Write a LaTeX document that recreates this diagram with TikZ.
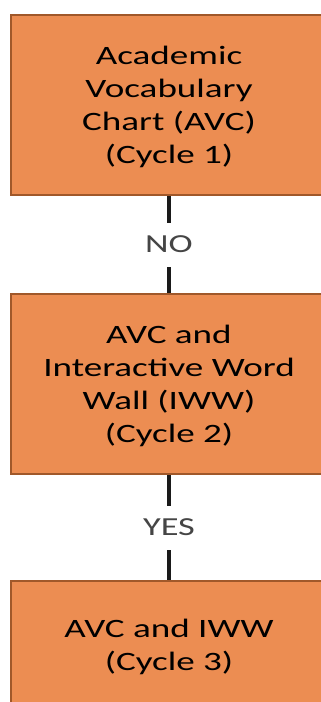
\documentclass[tikz,border=0pt]{standalone}
\usepackage{fontspec}
\newfontfamily\boxfont[FakeStretch=1.4]{Carlito}
\definecolor{boxfill}{HTML}{EC8D52}
\definecolor{boxedge}{HTML}{A0582A}
\definecolor{lblgray}{HTML}{454545}
\definecolor{linecol}{HTML}{1A1A1A}
\begin{document}
\begin{tikzpicture}[x=1pt,y=1pt,
  stage/.style={draw=boxedge, fill=boxfill, line width=2.5pt, rectangle,
    minimum width=316pt, inner sep=0pt, align=center,
    font=\boxfont\fontsize{26.5}{33}\selectfont, text=black},
  tall/.style={minimum height=180pt, text depth=-6pt},
  lbl/.style={fill=white, inner sep=0pt, minimum height=44pt, minimum width=60pt,
    font=\boxfont\fontsize{26}{33}\selectfont, text=lblgray},
  link/.style={draw=linecol, line width=4pt}]
\useasboundingbox (0,0) rectangle (321,-702);
\clip (0,0) rectangle (321,-702);
\node[stage, tall] (b1) at (169,-105) {Academic\\Vocabulary\\Chart (AVC)\\(Cycle 1)};
\node[stage, tall] (b2) at (169,-384) {AVC and\\Interactive Word\\Wall (IWW)\\(Cycle 2)};
\node[stage, minimum height=132pt] (b3) at (169,-647) {AVC and IWW\\(Cycle 3)};
\draw[link] (b1.south) -- node[lbl] {NO} (b2.north);
\draw[link] (b2.south) -- node[lbl] {YES} (b3.north);
\end{tikzpicture}
\end{document}
